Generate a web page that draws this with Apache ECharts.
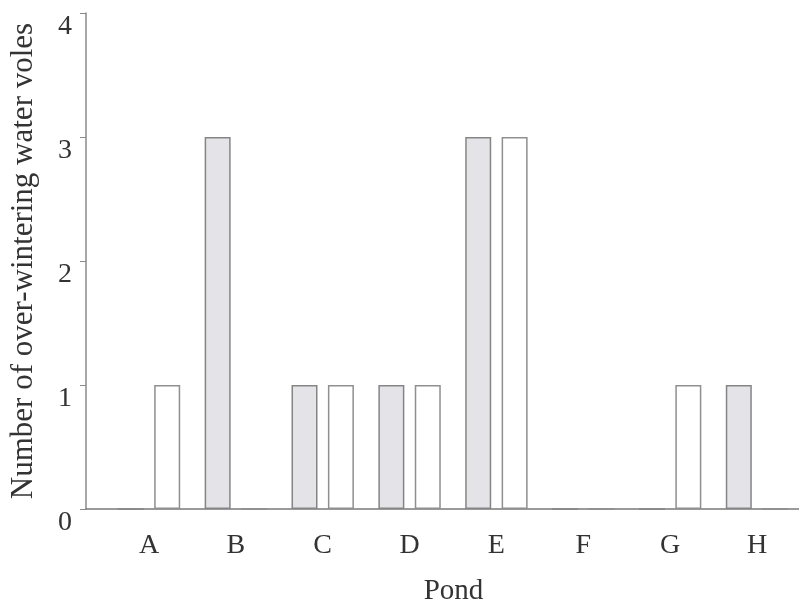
<!DOCTYPE html>
<html>
<head>
<meta charset="utf-8">
<script src="https://cdn.jsdelivr.net/npm/echarts@6/dist/echarts.min.js"></script>
<style>
html,body{margin:0;padding:0;background:#fff;}
#chart{width:799px;height:606px;}
</style>
</head>
<body>
<div id="chart"></div>
<script>
// Data
var categories = ['A', 'B', 'C', 'D', 'E', 'F', 'G', 'H'];
var shadedValues = [0, 3, 1, 1, 3, 0, 0, 1];
var openValues = [1, 0, 1, 1, 3, 0, 1, 0];
var yTicks = [0, 1, 2, 3, 4];

var positions = categories.map(function (c, i) { return i + 1; });

var chart = echarts.init(document.getElementById('chart'), null, { renderer: 'canvas' });
var font = 'Liberation Serif, Times New Roman, serif';

var option = {
  backgroundColor: '#ffffff',
  animation: false,
  grid: { left: 86, right: 0, top: 13, bottom: 97, containLabel: false, outerBoundsMode: 'none' },
  xAxis: {
    type: 'value',
    min: 0.2747,
    max: 8.4837,
    name: 'Pond',
    nameLocation: 'middle',
    nameGap: 68,
    nameTextStyle: { fontFamily: font, fontSize: 29, color: '#333', padding: [0, 0, 0, 22] },
    axisLine: { show: true, onZero: false, lineStyle: { color: '#7a7a7a', width: 1.5 } },
    axisTick: { show: false },
    splitLine: { show: false },
    axisLabel: {
      customValues: positions,
      formatter: function (v) { return categories[Math.round(v) - 1] || ''; },
      fontFamily: font, fontSize: 28, color: '#333', margin: 23
    }
  },
  yAxis: {
    type: 'value',
    min: yTicks[0],
    max: yTicks[yTicks.length - 1],
    interval: 1,
    name: 'Number of over-wintering water voles',
    nameLocation: 'middle',
    nameGap: 47,
    nameTextStyle: { fontFamily: font, fontSize: 31, color: '#333' },
    axisLine: { show: true, lineStyle: { color: '#8a8a8a', width: 1.5 } },
    axisTick: { show: true, length: 6, lineStyle: { color: '#8a8a8a' } },
    splitLine: { show: false },
    axisLabel: {
      fontFamily: font, fontSize: 28, color: '#333', margin: 14,
      verticalAlign: 'top'
    }
  },
  series: [
    {
      name: 'Shaded',
      type: 'bar',
      barWidth: 26,
      barGap: '40%',
      data: positions.map(function (p, i) { return [p, shadedValues[i]]; }),
      itemStyle: { color: '#e4e4e8', borderColor: '#858585', borderWidth: 1.5 }
    },
    {
      name: 'Open',
      type: 'bar',
      barWidth: 26,
      barGap: '40%',
      data: positions.map(function (p, i) { return [p, openValues[i]]; }),
      itemStyle: { color: '#ffffff', borderColor: '#8f8f8f', borderWidth: 1.5 }
    }
  ]
};
chart.setOption(option);
</script>
</body>
</html>
